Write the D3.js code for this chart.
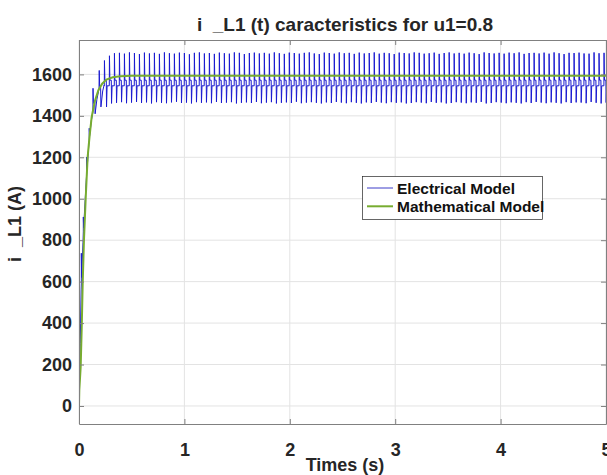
<!DOCTYPE html>
<html>
<head>
<meta charset="utf-8">
<script src="https://cdn.jsdelivr.net/npm/d3@7"></script>
<style>
  html, body { margin: 0; padding: 0; background: #fff; }
  svg { display: block; font-family: "Liberation Sans", Arial, sans-serif; }
</style>
</head>
<body>
<svg id="chart" width="607" height="475"></svg>
<script>
// ---------- data ----------
const xTicks = [0, 1, 2, 3, 4, 5];
const yTicks = [0, 200, 400, 600, 800, 1000, 1200, 1400, 1600];
const seriesNames = ["Electrical Model", "Mathematical Model"];

// Mathematical model (smooth first-order rise)
const mathT = [0, 0.003, 0.016, 0.026, 0.035, 0.047, 0.063, 0.082, 0.10, 0.12, 0.15, 0.183, 0.22, 0.26, 0.32, 0.39, 0.5, 1, 2, 3, 4, 5];
const mathI = [0, 77, 190, 382, 591, 800, 996, 1201, 1300, 1394, 1470, 1523, 1555, 1575, 1586, 1591, 1593, 1593, 1593, 1593, 1593, 1593];

// Electrical model: start-up transient points
const elecTransT = [0, 0.004, 0.012, 0.020, 0.022, 0.022, 0.025, 0.038, 0.041, 0.041, 0.044, 0.068, 0.073, 0.073, 0.076, 0.093, 0.097, 0.097, 0.100, 0.118, 0.132, 0.133, 0.137, 0.150, 0.153, 0.170, 0.190, 0.192, 0.196, 0.205, 0.208, 0.225, 0.238];
const elecTransI = [0, 90, 300, 560, 593, 737, 620, 790, 840, 912, 860, 1080, 1121, 1201, 1140, 1260, 1282, 1340, 1300, 1380, 1418, 1533, 1460, 1470, 1410, 1480, 1530, 1619, 1540, 1540, 1443, 1520, 1548];

// Electrical model: ripple cycles in steady state (one peak / dip per cycle)
const elecCycleStart = 0.240;   // s
const elecCyclePeriod = 0.0474; // s
const elecPlateauHigh = 1572;
const elecPlateauLow = 1545;
const elecPeaks = [
  1667,1690,1702,1704,1700,1706,1703,1698,1705,1701,
  1704,1699,1706,1702,1700,1705,1703,1697,1704,1706,
  1701,1703,1699,1705,1702,1700,1706,1704,1698,1703,
  1705,1701,1704,1700,1706,1702,1699,1705,1703,1700,
  1704,1706,1701,1698,1705,1703,1700,1706,1702,1704,
  1699,1705,1701,1703,1706,1700,1704,1702,1698,1705,
  1703,1701,1706,1704,1700,1702,1705,1699,1703,1706,
  1701,1704,1700,1705,1702,1698,1706,1703,1701,1704,
  1700,1705,1702,1706,1699,1703,1704,1701,1705,1700,
  1706,1702,1698,1704,1703,1705,1701,1700,1706,1702,
  1704];
const elecDips = [
  1443,1460,1463,1466,1461,1464,1467,1462,1465,1460,
  1466,1463,1461,1465,1468,1462,1464,1460,1466,1463,
  1465,1461,1467,1462,1464,1466,1460,1463,1465,1462,
  1467,1461,1464,1466,1460,1463,1465,1462,1468,1461,
  1464,1466,1463,1460,1465,1462,1467,1464,1461,1466,
  1463,1460,1465,1462,1467,1464,1461,1466,1463,1465,
  1460,1462,1466,1464,1461,1467,1463,1465,1460,1462,
  1466,1464,1461,1465,1463,1467,1460,1462,1466,1464,
  1461,1465,1463,1460,1466,1462,1467,1464,1461,1465,
  1463,1460,1466,1462,1465,1464,1461,1467,1463,1460,
  1464];

// ---------- build point tables ----------
const mathData = mathT.map((t, i) => ({ t, v: mathI[i] }));
const elecData = elecTransT.map((t, i) => ({ t, v: elecTransI[i] }));
elecPeaks.forEach((pk, i) => {
  const s = elecCycleStart + i * elecCyclePeriod, P = elecCyclePeriod;
  elecData.push({ t: s, v: elecPlateauLow });
  elecData.push({ t: s + 0.03 * P, v: pk });
  elecData.push({ t: s + 0.12 * P, v: elecPlateauHigh });
  elecData.push({ t: s + 0.40 * P, v: elecPlateauHigh });
  elecData.push({ t: s + 0.45 * P, v: elecDips[i] });
  elecData.push({ t: s + 0.56 * P, v: elecPlateauLow });
});

// ---------- layout ----------
const L = 79, R = 606, T = 40, B = 424;
const svg = d3.select("#chart");
const x = d3.scaleLinear().domain([0, 5]).range([L, R]);
const y = d3.scaleLinear().domain([-87, 1766]).range([B, T]);
const textColor = "#262626";
const axisColor = "#808080";

svg.append("defs").append("clipPath").attr("id", "clip")
  .append("rect").attr("x", L).attr("y", T).attr("width", R - L).attr("height", B - T);

// grid
const grid = svg.append("g");
grid.selectAll("line.gx").data(xTicks).join("line")
  .attr("x1", d => x(d)).attr("x2", d => x(d)).attr("y1", T).attr("y2", B)
  .attr("stroke", "#e3e3e3").attr("stroke-width", 1);
grid.selectAll("line.gy").data(yTicks).join("line")
  .attr("x1", L).attr("x2", R).attr("y1", d => y(d)).attr("y2", d => y(d))
  .attr("stroke", "#e3e3e3").attr("stroke-width", 1);

// series
const line = d3.line().x(d => x(d.t)).y(d => y(d.v));
const plot = svg.append("g").attr("clip-path", "url(#clip)");
plot.append("path").datum(elecData).attr("d", line)
  .attr("fill", "none").attr("stroke", "#1a1ad0").attr("stroke-width", 1)
  .attr("stroke-linejoin", "miter");
plot.append("path").datum(mathData).attr("d", line)
  .attr("fill", "none").attr("stroke", "#77ac30").attr("stroke-width", 2);

// axes
function styleAxis(g) {
  g.select(".domain").attr("stroke", axisColor).attr("stroke-width", 1);
  g.selectAll(".tick line").attr("stroke", axisColor);
  g.selectAll("text").attr("fill", textColor).attr("font-size", 18).attr("font-weight", "bold")
    .attr("font-family", "Liberation Sans, Arial, sans-serif");
}
svg.append("g").attr("transform", `translate(0,${B})`)
  .call(d3.axisBottom(x).tickValues(xTicks).tickFormat(d3.format("d")).tickSizeInner(-5).tickSizeOuter(0).tickPadding(19))
  .call(styleAxis);
svg.append("g").attr("transform", `translate(0,${T})`)
  .call(d3.axisTop(x).tickValues(xTicks).tickFormat("").tickSizeInner(-5).tickSizeOuter(0))
  .call(styleAxis);
svg.append("g").attr("transform", `translate(${L},0)`)
  .call(d3.axisLeft(y).tickValues(yTicks).tickFormat(d3.format("d")).tickSizeInner(-5).tickSizeOuter(0).tickPadding(7))
  .call(styleAxis);
svg.append("g").attr("transform", `translate(${R},0)`)
  .call(d3.axisRight(y).tickValues(yTicks).tickFormat("").tickSizeInner(-5).tickSizeOuter(0))
  .call(styleAxis);

// title and labels
svg.append("text").attr("x", 345).attr("y", 31).attr("text-anchor", "middle")
  .attr("font-size", 19).attr("font-weight", "bold").attr("fill", textColor)
  .attr("xml:space", "preserve").style("white-space", "pre")
  .text("i  _L1 (t) caracteristics for u1=0.8");
svg.append("text").attr("x", 345).attr("y", 471).attr("text-anchor", "middle")
  .attr("font-size", 18).attr("font-weight", "bold").attr("fill", textColor)
  .text("Times (s)");
svg.append("text").attr("transform", "translate(21,224) rotate(-90)").attr("text-anchor", "middle")
  .attr("font-size", 18).attr("font-weight", "bold").attr("fill", textColor)
  .attr("xml:space", "preserve").style("white-space", "pre")
  .text("i  _L1 (A)");

// legend
const lg = svg.append("g");
lg.append("rect").attr("x", 362.5).attr("y", 176.5).attr("width", 180).attr("height", 43)
  .attr("fill", "#fff").attr("stroke", "#262626").attr("stroke-width", 0.7);
const legendColors = ["#3c3cc8", "#77ac30"];
const legendWidths = [1, 2];
seriesNames.forEach((name, i) => {
  const yy = 188 + i * 18.3;
  lg.append("line").attr("x1", 367).attr("x2", 393).attr("y1", yy).attr("y2", yy)
    .attr("stroke", legendColors[i]).attr("stroke-width", legendWidths[i]);
  lg.append("text").attr("x", 397).attr("y", yy + 5.5)
    .attr("font-size", 15.5).attr("font-weight", "bold").attr("fill", "#111")
    .text(name);
});
</script>
</body>
</html>
